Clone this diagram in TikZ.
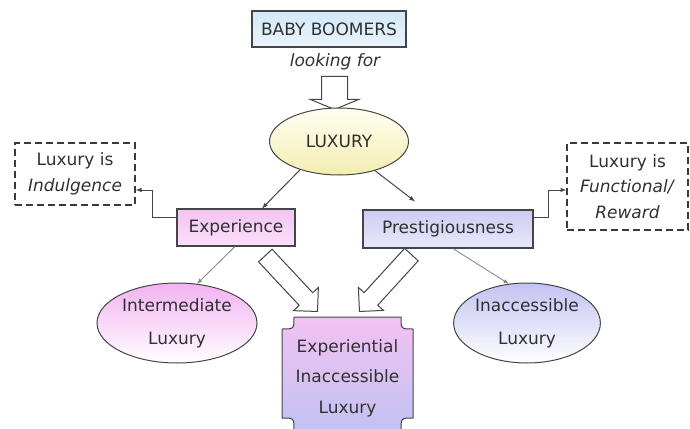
\documentclass[tikz,border=0pt]{standalone}
\usepackage{fontspec}
\setmainfont{DejaVu Sans}
\usepackage{tikz}
\usetikzlibrary{shapes.geometric,shapes.arrows}

\definecolor{txtgray}{HTML}{303030}
\definecolor{linegray}{HTML}{454545}
\definecolor{notegray}{HTML}{3A3A3A}
\definecolor{boomtop}{HTML}{D3E8F8}
\definecolor{boombot}{HTML}{EAF4FC}
\definecolor{luxtop}{HTML}{FFFFF2}
\definecolor{luxbot}{HTML}{F3EDB0}
\definecolor{pinktop}{HTML}{F3C3F3}
\definecolor{pinkbot}{HTML}{FAE0FA}
\definecolor{lavtop}{HTML}{CDCDF5}
\definecolor{lavbot}{HTML}{E8E8FB}
\definecolor{pinkdeep}{HTML}{F2B2F2}
\definecolor{lavdeep}{HTML}{C2C2F2}

\begin{document}
\begin{tikzpicture}[x=1pt,y=-1pt,
  every node/.style={text=txtgray,font=\fontsize{17}{20}\selectfont},
  box/.style={draw=linegray,line width=1.1pt,inner sep=0pt},
  oval/.style={ellipse,draw=linegray,line width=1pt,inner sep=0pt,align=center,
    font=\fontsize{17}{33}\selectfont},
  note/.style={draw=notegray,dash pattern=on 7pt off 4pt,line width=1.4pt,
    align=center,inner sep=0pt,font=\fontsize{17}{25.5}\selectfont},
  fat/.style={single arrow,draw=linegray,fill=white,line width=1pt,
    inner xsep=0pt,minimum width=0pt,anchor=tip},
  conn/.style={draw=linegray,line width=1pt,->,>=latex},
  leaf/.style={draw=gray,line width=0.8pt,->,>=latex}]

\useasboundingbox (0,0) rectangle (690,428);

% top of the tree
\node[box,top color=boomtop,bottom color=boombot,minimum width=154,minimum height=36] (boomers) at (329,29) {BABY BOOMERS};
\node[font=\fontsize{17}{20}\selectfont\itshape] (look) at (335,62) {looking for};
\node[fat,rotate=-90,inner ysep=12.5pt,single arrow head extend=11.5pt,
  single arrow tip angle=135,minimum height=33] (lookarrow) at (334.5,110) {};
\node[oval,top color=luxtop,bottom color=luxbot,minimum width=139,minimum height=67] (lux) at (339,141.5) {LUXURY};

% second level
\node[box,top color=pinktop,bottom color=pinkbot,minimum width=118,minimum height=37] (exp) at (236,227.5) {Experience};
\node[box,top color=lavtop,bottom color=lavbot,minimum width=170,minimum height=38] (prest) at (448,229) {Prestigiousness};

\node[note,minimum width=120,minimum height=62] (indul) at (75,174) {Luxury is\\\textit{Indulgence}};
\node[note,minimum width=121,minimum height=87] (func) at (627.5,186.5) {Luxury is\\\textit{Functional/}\\\textit{Reward}};

% bottom level
\node[oval,top color=pinkdeep,bottom color=white,minimum width=160,minimum height=80] (inter) at (177,323) {Intermediate\\Luxury};
\node[oval,top color=lavdeep,bottom color=white,minimum width=146,minimum height=80] (inac) at (527,323) {Inaccessible\\Luxury};

\shade[top color=pinktop!90!pinkdeep,bottom color=lavdeep,draw=linegray,line width=1pt]
  (294,317) -- (401,317) .. controls (401,329) .. (413,329) -- (413,418)
  .. controls (401,418) .. (401,430) -- (294,430) .. controls (294,418) .. (282,418)
  -- (282,329) .. controls (294,329) .. (294,317) -- cycle;
\node[align=center,font=\fontsize{17}{30.5}\selectfont] (exil) at (347.5,378) {Experiential\\Inaccessible\\Luxury};

\node[fat,rotate=-47,inner ysep=8.75pt,single arrow head extend=7.75pt,
  single arrow tip angle=90,minimum height=76.5] (exparrow) at (318,312) {};
\node[fat,rotate=-132.4,inner ysep=8.75pt,single arrow head extend=7.75pt,
  single arrow tip angle=90,minimum height=77] (prestarrow) at (359,312) {};

% connectors
\draw[conn] (lux.216) -- ([xshift=26pt]exp.north);
\draw[conn] (lux.-39) -- ([xshift=-33pt,yshift=8pt]prest.north);
\draw[conn] ([yshift=10pt]exp.west) -- ++(-24,0) |- ([yshift=-16pt]indul.east);
\draw[conn] ([yshift=12pt]prest.east) -- ++(15,0) |- ([yshift=-3.5pt]func.west);
\draw[leaf] ([xshift=-1pt]exp.south) -- (inter.63);
\draw[leaf] ([xshift=5pt]prest.south) -- (inac.115);

\end{tikzpicture}
\end{document}
